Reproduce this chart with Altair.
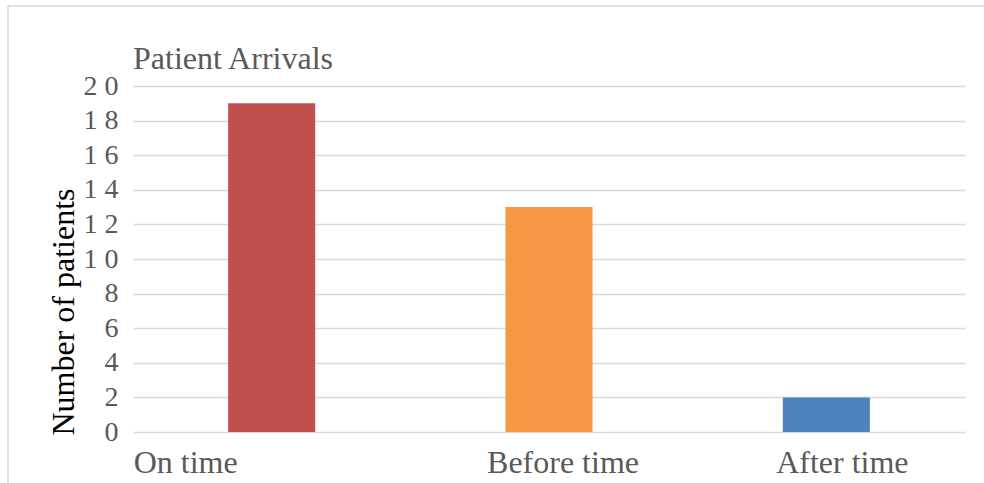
import altair as alt
import pandas as pd

# Patient arrival counts by timing category
categories = ["On time", "Before time", "After time"]
patients = [19, 13, 2]
bar_colors = ["#C0504D", "#F79646", "#4F81BD"]
y_ticks = [0, 2, 4, 6, 8, 10, 12, 14, 16, 18, 20]

df = pd.DataFrame({"arrival": categories, "patients": patients})

W, H = 832, 346
PAD = {"left": 133, "top": 86, "right": 19, "bottom": 51}
SERIF = "Liberation Serif"
GRID = "#D9D9D9"
TEXT = "#595959"

# shift the category labels along the axis
label_shift = {
    "condition": [
        {"test": "datum.value == 'On time'", "value": -86},
        {"test": "datum.value == 'Before time'", "value": 14},
        {"test": "datum.value == 'After time'", "value": 16},
    ],
    "value": 0,
}

bars = alt.Chart(df).mark_bar().encode(
    x=alt.X(
        "arrival:N",
        sort=categories,
        scale=alt.Scale(paddingInner=0.686, paddingOuter=0.343),
        axis=alt.Axis(
            title=None,
            labelAngle=0,
            ticks=False,
            domain=False,
            grid=False,
            labelFont=SERIF,
            labelFontSize=32,
            labelColor=TEXT,
            labelBaseline="alphabetic",
            labelPadding=40,
            labelOffset=label_shift,
        ),
    ),
    y=alt.Y(
        "patients:Q",
        scale=alt.Scale(domain=[0, 20], nice=False),
        axis=alt.Axis(
            values=y_ticks,
            labelExpr="datum.value >= 10 ? floor(datum.value / 10) + ' ' + (datum.value % 10) : datum.label",
            ticks=False,
            domain=False,
            grid=True,
            gridColor=GRID,
            gridWidth=1.3,
            labelFont=SERIF,
            labelFontSize=28,
            labelColor=TEXT,
            labelPadding=15,
            title="Number of patients",
            titleFont=SERIF,
            titleFontSize=32,
            titleFontWeight="normal",
            titleColor="#000000",
            titleAngle=-90,
            titleAlign="left",
            titleBaseline="alphabetic",
            titleX=-60,
            titleY=H + 3,
        ),
    ),
    color=alt.Color(
        "arrival:N",
        scale=alt.Scale(domain=categories, range=bar_colors),
        legend=None,
    ),
)

# outer chart frame (top and left edges)
frame_src = pd.DataFrame({"k": [0]})
frame_left = alt.Chart(frame_src).mark_rule(color=GRID, strokeWidth=1.5).encode(
    x=alt.value(-125), y=alt.value(-80), y2=alt.value(H + PAD["bottom"])
)
frame_top = alt.Chart(frame_src).mark_rule(color=GRID, strokeWidth=1.5).encode(
    x=alt.value(-125), x2=alt.value(W + PAD["right"]), y=alt.value(-80)
)

chart = (
    alt.layer(frame_left, frame_top, bars)
    .properties(
        width=W,
        height=H,
        autosize=alt.AutoSizeParams(type="none"),
        padding=PAD,
        background="white",
        title=alt.TitleParams(
            "Patient Arrivals",
            anchor="start",
            frame="group",
            font=SERIF,
            fontSize=32,
            fontWeight="normal",
            color=TEXT,
            baseline="bottom",
            offset=12,
            # the frame rules extend the group bounds upward; bring the title back down
            dy=115,
        ),
    )
    .configure_view(stroke="transparent", strokeWidth=0)
)

chart.save("out.html", embed_options={"renderer": "svg", "actions": False})
